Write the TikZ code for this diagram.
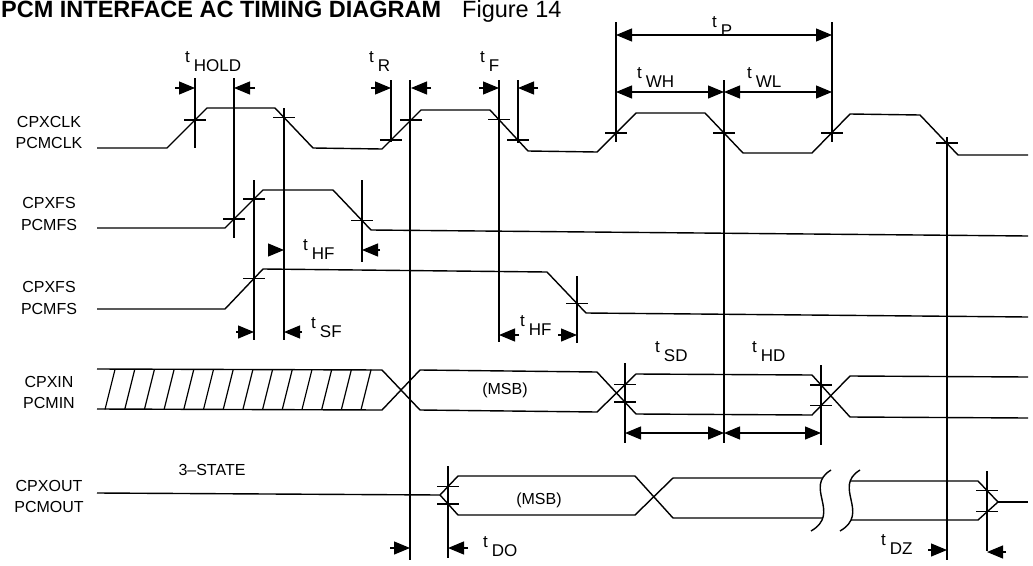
\documentclass[tikz,border=0pt]{standalone}
\usepackage{fontspec}
\setmainfont{Liberation Sans}
\usetikzlibrary{arrows.meta}
\newcommand{\tsubl}[1]{t\hspace{4pt}\raisebox{-9pt}{#1}}
\begin{document}
\begin{tikzpicture}[x=1pt,y=-1pt, line join=miter,
  sig/.style={line width=1.4pt},
  vl/.style={line width=1.2pt},
  tk/.style={line width=1.2pt},
  arr/.style={line width=1.2pt,-{Triangle[length=16pt,width=13pt]}},
  darr/.style={line width=1.2pt,{Triangle[length=16pt,width=13pt]}-{Triangle[length=16pt,width=13pt]}},
  lab/.style={font=\fontsize{16}{21.5}\selectfont, align=center, inner sep=0pt},
  tl/.style={font=\fontsize{17}{20}\selectfont, anchor=base west, inner sep=0pt}]
\fill[white] (0,0) rectangle (1033,565);
\useasboundingbox (0,0) rectangle (1033,565);
\newcommand{\tickat}[2]{\draw[tk] (#1-11,#2) -- (#1+11,#2);}

% title
\node[anchor=base west, inner sep=0pt, font=\fontsize{23.5}{28}\selectfont\bfseries] (title) at (1,17) {PCM INTERFACE AC TIMING DIAGRAM};
\node[anchor=base west, inner sep=0pt, font=\fontsize{23.5}{28}\selectfont] (fig) at (462,17) {Figure 14};

% signal names
\node[lab] (nclk) at (49,132.5) {CPXCLK\\PCMCLK};
\node[lab] (nfs1) at (49,214) {CPXFS\\PCMFS};
\node[lab] (nfs2) at (49,298) {CPXFS\\PCMFS};
\node[lab] (nin) at (49,392.5) {CPXIN\\PCMIN};
\node[lab] (nout) at (49,496.5) {CPXOUT\\PCMOUT};

% CLK
\draw[sig] (97,148) -- (167,148) -- (207,108) -- (275,108) -- (313,148) -- (382,149) -- (421,110) -- (490,110) -- (528,151) -- (597,152) -- (636,113) -- (705,113) -- (743,153) -- (812,153) -- (850,114) -- (920,115) -- (958,155) -- (1028,155);
\tickat{195}{120}\tickat{284}{117.5}\tickat{391}{140}\tickat{411}{120}
\tickat{499}{119.7}\tickat{518}{140}\tickat{616}{133}\tickat{724}{133}
\tickat{832}{133}\tickat{947}{143}

% FS1
\draw[sig] (97,228) -- (225,228) -- (263,190) -- (333,190) -- (371,230) -- (1028,236);
\tickat{234}{219}\tickat{254}{199}\tickat{362}{220.5}

% FS2
\draw[sig] (97,309) -- (225,309) -- (263,269) -- (547,272) -- (586,313) -- (1028,317);
\tickat{254}{278.5}\tickat{577}{303.5}

% CPXIN
\draw[sig] (97,369) -- (382,370) -- (420,410) -- (597,412) -- (636,374) -- (812,375) -- (850,417) -- (1028,418);
\draw[sig] (97,409) -- (382,410) -- (420,370) -- (597,372) -- (636,414) -- (812,415) -- (850,376) -- (1028,377);
\foreach \k in {0,...,13} \draw[vl] ({105+19.7*\k},409.5) -- ({115+19.7*\k},369.5);
\tickat{625}{384.5}\tickat{625}{402}\tickat{821}{385}\tickat{821}{405.5}

% CPXOUT
\draw[sig] (97,493) -- (440,495) -- (458,476) -- (635,476) -- (673,518) -- (822,518);
\draw[sig] (440,495) -- (458,515) -- (635,515) -- (673,478) -- (822,478);
\draw[sig] (831,470) .. controls (803,487) and (842,513) .. (811,531);
\draw[sig] (860,470) .. controls (832,487) and (871,513) .. (840,531);
\draw[sig] (850,481) -- (978,481) -- (998,502) -- (978,520) -- (851,520);
\draw[sig] (998,502) -- (1028,502);
\tickat{448}{486.5}\tickat{448}{504}\tickat{987}{490.5}\tickat{987}{511.5}

\node[lab] (st) at (212,470) {3--STATE};
\node[lab] (msb1) at (505,390) {(MSB)};
\node[lab] (msb2) at (539,500) {(MSB)};

% vertical reference lines
\foreach \x/\a/\b in {195/78/148, 234/78/238, 284/108/340, 254/180/340, 362/180/262,
  391/80/142, 410/80/560, 499/80/342, 518/80/143, 577/276/343, 616/22/142,
  724/80/443, 832/22/142, 947/137/560, 625/363/443, 821/365/445, 448/466/558, 987/471/551}
  \draw[vl] (\x,\a) -- (\x,\b);

% single arrows
\draw[arr] (175,88) -- (195,88);
\draw[arr] (255,88) -- (234,88);
\draw[arr] (371,88) -- (391,88);
\draw[arr] (431,88) -- (411,88);
\draw[arr] (479,88) -- (499,88);
\draw[arr] (538,88) -- (518,88);
\draw[arr] (268,250) -- (284,250);
\draw[arr] (380,250) -- (362,250);
\draw[arr] (236,332) -- (254,332);
\draw[arr] (302,332) -- (284,332);
\draw[arr] (519,335) -- (499,335);
\draw[arr] (558,335) -- (577,335);
\draw[arr] (390,548) -- (410,548);
\draw[arr] (468,548) -- (448,548);
\draw[arr] (928,550) -- (947,550);
\draw[arr] (1006,552) -- (987,552);

% double arrows
\draw[darr] (616,35) -- (832,35);
\draw[darr] (616,92) -- (724,92);
\draw[darr] (724,92) -- (832,92);
\draw[darr] (625,433) -- (724,433);
\draw[darr] (724,433) -- (821,433);

% timing labels
\node[tl] (thold) at (185,62) {\tsubl{HOLD}};
\node[tl] (tr) at (369,62) {\tsubl{R}};
\node[tl] (tf) at (480,62) {\tsubl{F}};
\node[tl] (tp) at (712,27) {\tsubl{P}};
\node[tl] (twh) at (637,78) {\tsubl{WH}};
\node[tl] (twl) at (747,78) {\tsubl{WL}};
\node[tl] (thf1) at (303,250) {\tsubl{HF}};
\node[tl] (tsf) at (311,328) {\tsubl{SF}};
\node[tl] (thf2) at (520,326) {\tsubl{HF}};
\node[tl] (tsd) at (655,352) {\tsubl{SD}};
\node[tl] (thd) at (752,352) {\tsubl{HD}};
\node[tl] (tdo) at (483,547) {\tsubl{DO}};
\node[tl] (tdz) at (881,545) {\tsubl{DZ}};
\end{tikzpicture}
\end{document}
